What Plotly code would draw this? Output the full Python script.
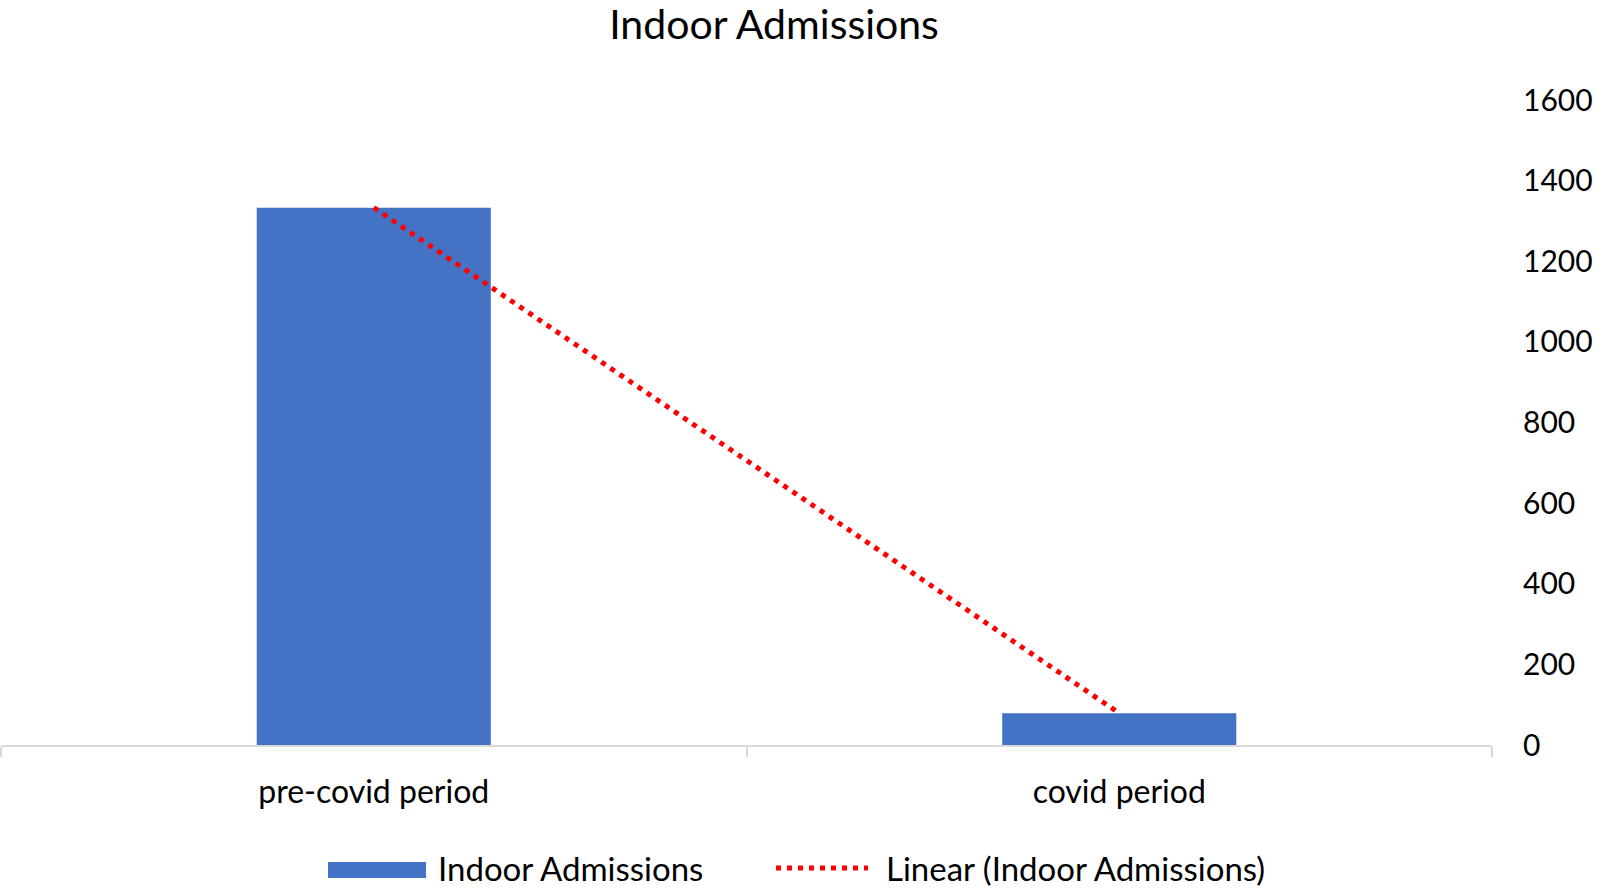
import plotly.graph_objects as go

categories = ["pre-covid period", "covid period"]
admissions = [1333, 79]
trend_values = [1333, 79]
y_ticks = [0, 200, 400, 600, 800, 1000, 1200, 1400, 1600]

W, H = 1598, 891
L, R, T, B = 1, 106, 100, 146
PW, PH = W - L - R, H - T - B
FONT = "Lato"
BLUE = "#4472C4"

def px_x(x):
    return (x - L) / PW

def px_y(y):
    return (H - B - y) / PH

fig = go.Figure()
fig.add_trace(go.Bar(x=categories, y=admissions, marker=dict(color=BLUE, line=dict(width=0)),
                     name="Indoor Admissions", showlegend=False))
fig.add_trace(go.Scatter(x=categories, y=trend_values, mode="lines",
                         line=dict(color="#FF0000", width=5, dash="5px,6px"),
                         name="Linear (Indoor Admissions)", showlegend=False))

# manual legend (Excel style)
fig.add_shape(type="rect", xref="paper", yref="paper",
              x0=px_x(328), x1=px_x(426), y0=px_y(862), y1=px_y(878),
              fillcolor=BLUE, line=dict(width=0))
fig.add_shape(type="line", xref="paper", yref="paper",
              x0=px_x(776), x1=px_x(868), y0=px_y(868), y1=px_y(868),
              line=dict(color="#FF0000", width=5, dash="5px,6px"))
fig.add_annotation(text="Indoor Admissions", xref="paper", yref="paper",
                   x=px_x(436), y=px_y(868), xanchor="left", yanchor="middle",
                   showarrow=False, font=dict(family=FONT, size=33, color="#000"))
fig.add_annotation(text="Linear (Indoor Admissions)", xref="paper", yref="paper",
                   x=px_x(884), y=px_y(868), xanchor="left", yanchor="middle",
                   showarrow=False, font=dict(family=FONT, size=33, color="#000"))

fig.update_layout(
    width=W, height=H,
    margin=dict(l=L, r=R, t=T, b=B),
    paper_bgcolor="white", plot_bgcolor="white",
    bargap=0.686,
    title=dict(text="Indoor Admissions", x=774 / W, xanchor="center", y=1 - 24.5 / H,
               yanchor="middle", font=dict(family=FONT, size=41, color="#000")),
    font=dict(family=FONT, color="#000"),
    showlegend=False,
)
fig.update_xaxes(showline=True, linecolor="#D9D9D9", linewidth=2,
                 ticks="outside", tickson="boundaries", ticklen=10, tickcolor="#D9D9D9",
                 tickwidth=2, tickfont=dict(family=FONT, size=32, color="#000"),
                 ticklabelstandoff=18, showgrid=False, zeroline=False)
fig.update_yaxes(side="right", range=[0, 1600], tickvals=y_ticks, showgrid=False,
                 zeroline=False, showline=False, ticks="",
                 tickfont=dict(family=FONT, size=30, color="#000"),
                 ticklabelstandoff=30)

fig.write_html("out.html", config={"displayModeBar": False},
               post_script="document.body.style.margin='0';")
